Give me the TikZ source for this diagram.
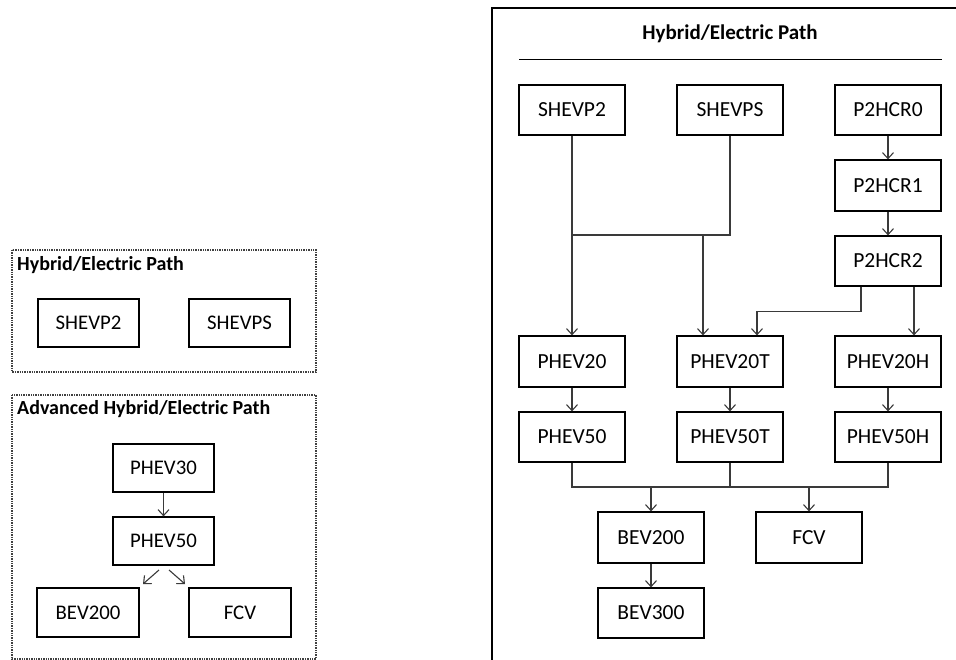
\documentclass[tikz,border=0pt]{standalone}
\usepackage{fontspec}
\setmainfont{Carlito}
\usetikzlibrary{arrows.meta}
\definecolor{linec}{HTML}{3A3A3A}
\tikzset{
  box/.style={draw=black, line width=1.2pt, minimum width=106pt, minimum height=50pt, inner sep=0pt,
    font=\fontsize{21.5}{24}\selectfont},
  sbox/.style={box, minimum width=101pt, minimum height=48pt, font=\fontsize{20.8}{24}\selectfont},
  arr/.style={draw=linec, line width=1.1pt, -{Straight Barb[length=6pt,width=11pt,line width=1.1pt]}},
  ln/.style={draw=linec, line width=1.1pt},
  ttl/.style={font=\fontsize{20}{22}\selectfont\bfseries, inner sep=0pt},
  dotframe/.style={draw=black!75, line width=1.4pt, densely dotted},
}
\begin{document}
\begin{tikzpicture}[x=1pt,y=-1pt]
\useasboundingbox (0,0) rectangle (956,660);
% ---------- left panel ----------
\draw[dotframe] (12,250) rectangle (316,372);
\node[ttl, anchor=west] (lt1) at (17,265) {Hybrid/Electric Path};
\node[sbox] (lSHEVP2) at (88.5,323) {SHEVP2};
\node[sbox] (lSHEVPS) at (239.5,323) {SHEVPS};

\draw[dotframe] (12,395) rectangle (316,659);
\node[ttl, anchor=west] (lt2) at (17,409) {Advanced Hybrid/Electric Path};
\node[sbox] (lPHEV30) at (163.5,468) {PHEV30};
\node[sbox] (lPHEV50) at (163.5,541) {PHEV50};
\node[sbox, minimum width=102pt, minimum height=49pt] (lBEV200) at (88,612.5) {BEV200};
\node[sbox, minimum width=102pt, minimum height=49pt] (lFCV) at (240,612.5) {FCV};
\draw[arr] (lPHEV30.south) -- (lPHEV50.north);
\coordinate (d1s) at (159,570); \coordinate (d1e) at (143,584);
\coordinate (d2s) at (169,570); \coordinate (d2e) at (185,584);
\draw[arr] (d1s) -- (d1e);
\draw[arr] (d2s) -- (d2e);

% ---------- right panel ----------
\draw[black, line width=2pt] (492,661) -- (492,8) -- (957,8);
\node[ttl, font=\fontsize{21}{23}\selectfont\bfseries] (rt) at (730,34) {Hybrid/Electric Path};
\draw[black, line width=1pt] (519,60) -- (942,60);

\node[box] (SHEVP2) at (572,110) {SHEVP2};
\node[box] (SHEVPS) at (730,110) {SHEVPS};
\node[box] (P2HCR0) at (888,110) {P2HCR0};
\node[box, minimum height=51pt] (P2HCR1) at (888,185.5) {P2HCR1};
\node[box] (P2HCR2) at (888,261) {P2HCR2};
\node[box, minimum height=51pt] (PHEV20) at (572,361.5) {PHEV20};
\node[box, minimum height=51pt] (PHEV20T) at (730,361.5) {PHEV20T};
\node[box, minimum height=51pt] (PHEV20H) at (888,361.5) {PHEV20H};
\node[box] (PHEV50) at (572,437) {PHEV50};
\node[box] (PHEV50T) at (730,437) {PHEV50T};
\node[box] (PHEV50H) at (888,437) {PHEV50H};
\node[box, minimum height=51pt] (BEV200) at (651,537.5) {BEV200};
\node[box, minimum height=51pt] (FCV) at (809,537.5) {FCV};
\node[box, minimum height=50pt] (BEV300) at (651,613) {BEV300};

\coordinate (j1) at (572,235);
\coordinate (j2) at (703,235);
\draw[arr] (SHEVP2.south) -- (PHEV20.north);
\draw[ln] (SHEVPS.south) |- (j1);
\draw[arr] (j2) -- (j2 |- PHEV20T.north);
\draw[arr] (P2HCR0) -- (P2HCR1);
\draw[arr] (P2HCR1) -- (P2HCR2);
\draw[arr] ([xshift=-27pt]P2HCR2.south) -- ++(0,25) -| ([xshift=27pt]PHEV20T.north);
\draw[arr] ([xshift=26pt]P2HCR2.south) -- ([xshift=26pt]PHEV20H.north);
\draw[arr] (PHEV20) -- (PHEV50);
\draw[arr] (PHEV20T) -- (PHEV50T);
\draw[arr] (PHEV20H) -- (PHEV50H);

\coordinate (m1) at (572,487);
\coordinate (m3) at (888,487);
\draw[ln] (PHEV50.south) -- (m1) -- (m3) -- (PHEV50H.south);
\draw[ln] (PHEV50T.south) -- (PHEV50T.south |- m1);
\draw[arr] (m1 -| BEV200) -- (BEV200.north);
\draw[arr] (m1 -| FCV) -- (FCV.north);
\draw[arr] (BEV200) -- (BEV300);
\end{tikzpicture}
\end{document}
